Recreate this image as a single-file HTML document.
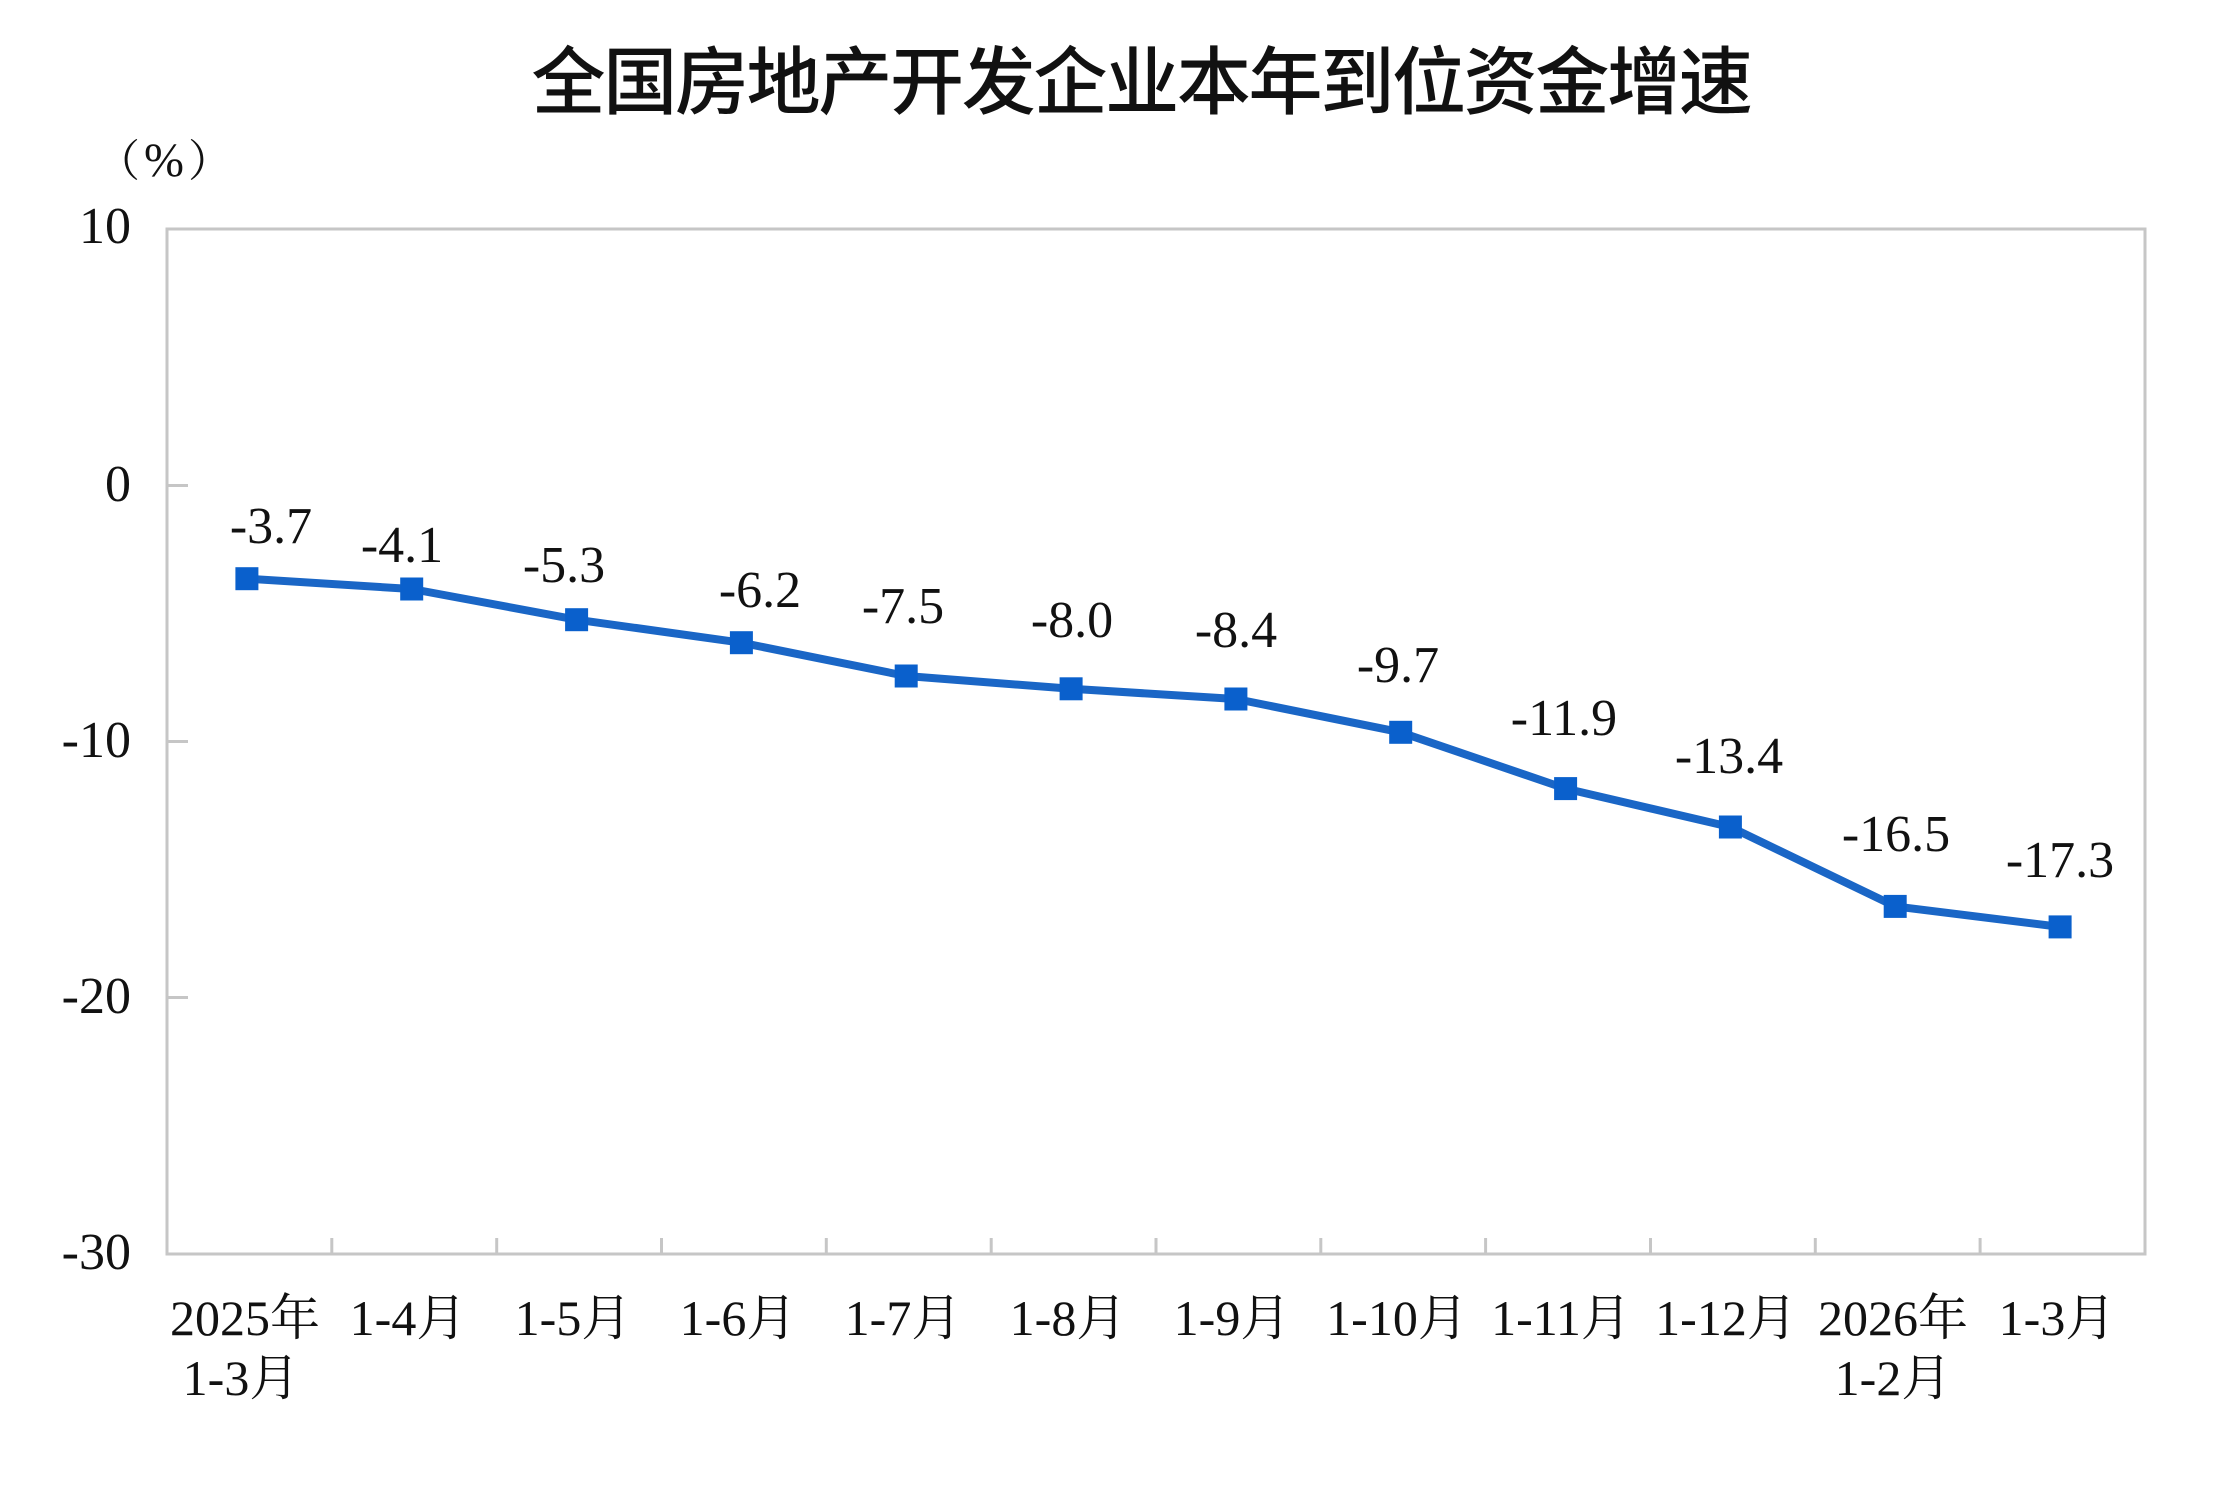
<!DOCTYPE html>
<html>
<head>
<meta charset="utf-8">
<style>
  html, body { margin:0; padding:0; background:#ffffff; }
  body { width:2216px; height:1492px; overflow:hidden; }
  svg { display:block; }
  .ser { font-family:"Liberation Serif","Noto Serif CJK SC",serif; fill:#111; }
  .title { font-family:"Liberation Sans","Noto Sans CJK SC",sans-serif; fill:#111; font-weight:500; }
</style>
</head>
<body>
<svg width="2216" height="1492" viewBox="0 0 2216 1492" xmlns="http://www.w3.org/2000/svg">
  <rect x="0" y="0" width="2216" height="1492" fill="#ffffff"/>

  <!-- Title -->
  <text class="title" x="1141" y="108" font-size="74" letter-spacing="-2.3" text-anchor="middle">全国房地产开发企业本年到位资金增速</text>

  <!-- unit -->
  <text class="ser" x="166" y="176" font-size="44" letter-spacing="4" text-anchor="middle">（<tspan font-size="48">%</tspan>）</text>

  <!-- plot frame -->
  <rect x="167" y="229" width="1978" height="1025" fill="none" stroke="#c6c6c6" stroke-width="3"/>

  <!-- y ticks (inward) -->
  <g stroke="#c6c6c6" stroke-width="3">
    <line x1="167" y1="485.5" x2="188" y2="485.5"/>
    <line x1="167" y1="741.5" x2="188" y2="741.5"/>
    <line x1="167" y1="997.5" x2="188" y2="997.5"/>
  </g>

  <!-- x ticks (inward) -->
  <g stroke="#c6c6c6" stroke-width="3">
    <line x1="331.8" y1="1254" x2="331.8" y2="1238"/>
    <line x1="496.7" y1="1254" x2="496.7" y2="1238"/>
    <line x1="661.5" y1="1254" x2="661.5" y2="1238"/>
    <line x1="826.3" y1="1254" x2="826.3" y2="1238"/>
    <line x1="991.2" y1="1254" x2="991.2" y2="1238"/>
    <line x1="1156" y1="1254" x2="1156" y2="1238"/>
    <line x1="1320.8" y1="1254" x2="1320.8" y2="1238"/>
    <line x1="1485.6" y1="1254" x2="1485.6" y2="1238"/>
    <line x1="1650.5" y1="1254" x2="1650.5" y2="1238"/>
    <line x1="1815.3" y1="1254" x2="1815.3" y2="1238"/>
    <line x1="1980.1" y1="1254" x2="1980.1" y2="1238"/>
  </g>

  <!-- y labels -->
  <g class="ser" font-size="52" text-anchor="end">
    <text x="131" y="243">10</text>
    <text x="131" y="501">0</text>
    <text x="131" y="757">-10</text>
    <text x="131" y="1013">-20</text>
    <text x="131" y="1269">-30</text>
  </g>

  <!-- series line -->
  <polyline fill="none" stroke="#1a66c6" stroke-width="8" stroke-linejoin="round"
    points="246.9,578.7 411.7,589.0 576.6,619.7 741.4,642.7 906.2,676.0 1071.1,688.8 1235.9,699.0 1400.7,732.3 1565.6,788.6 1730.4,827.0 1895.2,906.4 2060.1,926.9"/>

  <!-- markers -->
  <g fill="#0a60cc">
    <rect x="235.4" y="567.2" width="23" height="23"/>
    <rect x="400.2" y="577.5" width="23" height="23"/>
    <rect x="565.1" y="608.2" width="23" height="23"/>
    <rect x="729.9" y="631.2" width="23" height="23"/>
    <rect x="894.7" y="664.5" width="23" height="23"/>
    <rect x="1059.6" y="677.3" width="23" height="23"/>
    <rect x="1224.4" y="687.5" width="23" height="23"/>
    <rect x="1389.2" y="720.8" width="23" height="23"/>
    <rect x="1554.1" y="777.1" width="23" height="23"/>
    <rect x="1718.9" y="815.5" width="23" height="23"/>
    <rect x="1883.7" y="894.9" width="23" height="23"/>
    <rect x="2048.6" y="915.4" width="23" height="23"/>
  </g>

  <!-- data labels -->
  <g class="ser" font-size="52" text-anchor="middle">
    <text x="271" y="543">-3.7</text>
    <text x="402" y="562">-4.1</text>
    <text x="564" y="582">-5.3</text>
    <text x="760" y="607">-6.2</text>
    <text x="903" y="623">-7.5</text>
    <text x="1072" y="637">-8.0</text>
    <text x="1236" y="647">-8.4</text>
    <text x="1398" y="682">-9.7</text>
    <text x="1564" y="735">-11.9</text>
    <text x="1729" y="773">-13.4</text>
    <text x="1896" y="851">-16.5</text>
    <text x="2060" y="877">-17.3</text>
  </g>

  <!-- x labels -->
  <g class="ser" font-size="50" text-anchor="middle">
    <text x="245" y="1335">2025年</text>
    <text x="241" y="1395">1-3月</text>
    <text x="408" y="1335">1-4月</text>
    <text x="573" y="1335">1-5月</text>
    <text x="738" y="1335">1-6月</text>
    <text x="903" y="1335">1-7月</text>
    <text x="1068" y="1335">1-8月</text>
    <text x="1232" y="1335">1-9月</text>
    <text x="1397" y="1335">1-10月</text>
    <text x="1561" y="1335">1-11月</text>
    <text x="1726" y="1335">1-12月</text>
    <text x="1893" y="1335">2026年</text>
    <text x="1893" y="1395">1-2月</text>
    <text x="2057" y="1335">1-3月</text>
  </g>
</svg>
</body>
</html>
